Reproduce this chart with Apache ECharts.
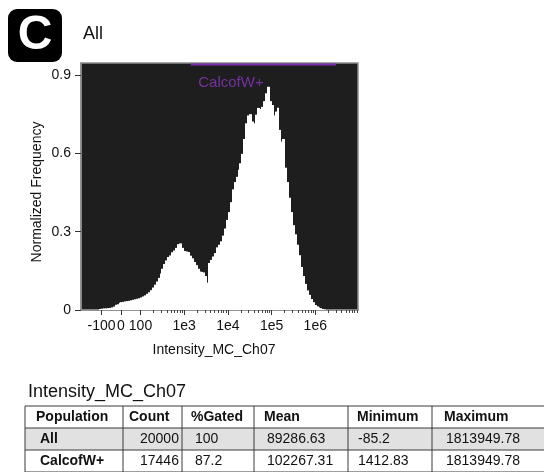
<!DOCTYPE html>
<html>
<head>
<meta charset="utf-8">
<script src="https://cdn.jsdelivr.net/npm/echarts@6/dist/echarts.min.js"></script>
<style>
  html, body { margin: 0; padding: 0; background: #fff; }
  #chart { width: 544px; height: 472px; }
</style>
</head>
<body>
<div id="chart"></div>
<script>
// Histogram bins live in display units of the biexponential axis:
// linear between -100 and 100, logarithmic above 100.
const binStart = -1.1;
const binWidth = 0.1;
const frequency = [
  0.004, 0.005, 0.006, 0.006, 0.007, 0.008, 0.010, 0.013, 0.020, 0.022,
  0.028, 0.030, 0.031, 0.033, 0.034, 0.035, 0.037, 0.039, 0.041, 0.043,
  0.045, 0.048, 0.052, 0.056, 0.062, 0.068, 0.076, 0.086, 0.097, 0.109,
  0.123, 0.140, 0.158, 0.176, 0.190, 0.203, 0.209, 0.221, 0.228, 0.238,
  0.252, 0.255, 0.238, 0.226, 0.224, 0.222, 0.208, 0.198, 0.184, 0.172,
  0.158, 0.147, 0.146, 0.144, 0.130, 0.105, 0.180, 0.192, 0.205, 0.218,
  0.240, 0.250, 0.263, 0.285, 0.312, 0.345, 0.375, 0.413, 0.462, 0.490,
  0.510, 0.537, 0.562, 0.598, 0.655, 0.715, 0.745, 0.750, 0.722, 0.715,
  0.748, 0.774, 0.770, 0.778, 0.800, 0.830, 0.855, 0.800, 0.785, 0.745,
  0.760, 0.775, 0.690, 0.645, 0.655, 0.545, 0.490, 0.430, 0.375, 0.325,
  0.290, 0.250, 0.210, 0.165, 0.130, 0.100, 0.075, 0.058, 0.042, 0.030,
  0.019, 0.014, 0.010, 0.007, 0.004, 0.002
];

const yTicks = [0, 0.3, 0.6, 0.9];
const xTickValues = [-100, 0, 100, 1e3, 1e4, 1e5, 1e6];
const xTickLabels = ['-100', '0', '100', '1e3', '1e4', '1e5', '1e6'];

const gateName = 'CalcofW+';
const gateRange = [1412.83, 3.0e6];
const gateLevel = 0.94;

const plotTitle = 'All';
const panelLetter = 'C';
const xName = 'Intensity_MC_Ch07';
const yName = 'Normalized Frequency';

const tableTitle = 'Intensity_MC_Ch07';
const tableHeader = ['Population', 'Count', '%Gated', 'Mean', 'Minimum', 'Maximum'];
const tableRows = [
  ['All', '20000', '100', '89286.63', '-85.2', '1813949.78'],
  ['CalcofW+', '17446', '87.2', '102267.31', '1412.83', '1813949.78']
];

// ---- axis transform ----
const DECADE = 2.24; // display units per decade above 100
function toDisplay(v) {
  return v <= 100 ? v / 100 : 1 + DECADE * Math.log10(v / 100);
}

const majorTicks = xTickValues.map(toDisplay);
const labelMap = {};
xTickValues.forEach((v, i) => { labelMap[toDisplay(v).toFixed(4)] = xTickLabels[i]; });
const minorTicks = [];
for (let e = 2; e <= 6; e++) {
  for (let k = 2; k <= 9; k++) minorTicks.push(toDisplay(k * Math.pow(10, e)));
}

const FONT = 'Liberation Sans, Arial, sans-serif';
const X_MIN = -2.05, X_MAX = 12.15;
const Y_MAX = 0.946;

const histData = frequency.map((v, i) => [binStart + i * binWidth, binStart + (i + 1) * binWidth, v]);

// ---- table graphics ----
const colEdges = [25, 123, 182, 254, 348, 432, 600];
const headX = [36, 129, 191, 264, 357, 444];
const cellX = [40, 140, 195, 267, 358, 446];
const rowEdges = [406, 428, 450, 472];
const tableEls = [];
tableEls.push({ type: 'rect', shape: { x: colEdges[0], y: rowEdges[1], width: 600, height: rowEdges[2] - rowEdges[1] },
  style: { fill: '#e1e1e1' } });
rowEdges.forEach(y => tableEls.push({ type: 'line', shape: { x1: colEdges[0], y1: y, x2: 600, y2: y },
  style: { stroke: '#3a3a3a', lineWidth: 1 } }));
colEdges.slice(0, 6).forEach(x => tableEls.push({ type: 'line', shape: { x1: x, y1: rowEdges[0], x2: x, y2: rowEdges[3] },
  style: { stroke: '#3a3a3a', lineWidth: 1 } }));
tableHeader.forEach((h, i) => tableEls.push({ type: 'text', x: headX[i], y: (rowEdges[0] + rowEdges[1]) / 2,
  style: { text: h, font: 'bold 14px ' + FONT, fill: '#111', verticalAlign: 'middle' } }));
tableRows.forEach((row, r) => row.forEach((c, i) => tableEls.push({ type: 'text', x: cellX[i],
  y: (rowEdges[r + 1] + rowEdges[r + 2]) / 2,
  style: { text: c, font: (i === 0 ? 'bold ' : '') + '14px ' + FONT, fill: '#111', verticalAlign: 'middle' } })));

const chart = echarts.init(document.getElementById('chart'), null, { renderer: 'canvas' });

chart.setOption({
  animation: false,
  backgroundColor: '#fff',
  textStyle: { fontFamily: FONT },
  grid: {
    left: 81, top: 63, width: 277, height: 247,
    show: true, backgroundColor: '#1e1e1e', borderColor: '#8c8c8c', borderWidth: 1.5
  },
  xAxis: [{
    type: 'value', min: X_MIN, max: X_MAX, position: 'bottom',
    axisLine: { show: true, onZero: false, lineStyle: { color: '#8c8c8c', width: 1.5 } },
    axisTick: { show: true, customValues: majorTicks, length: 5, lineStyle: { color: '#333' } },
    axisLabel: { customValues: majorTicks, color: '#111', fontSize: 14, margin: 9,
      formatter: v => labelMap[v.toFixed(4)] || '' },
    splitLine: { show: false }
  }, {
    type: 'value', min: X_MIN, max: X_MAX, position: 'bottom',
    axisLine: { show: false, onZero: false },
    axisTick: { show: true, customValues: minorTicks, length: 3, lineStyle: { color: '#444' } },
    axisLabel: { show: false },
    splitLine: { show: false }
  }],
  yAxis: {
    type: 'value', min: 0, max: Y_MAX, position: 'left',
    axisLine: { show: true, onZero: false, lineStyle: { color: '#8c8c8c', width: 1.5 } },
    axisTick: { show: true, customValues: yTicks, length: 6, lineStyle: { color: '#333', width: 1 } },
    axisLabel: { customValues: yTicks, color: '#111', fontSize: 14, margin: 10 },
    splitLine: { show: false }
  },
  series: [{
    type: 'custom',
    xAxisIndex: 0,
    data: histData,
    encode: { x: [0, 1], y: 2 },
    renderItem(params, api) {
      const p0 = api.coord([api.value(0), api.value(2)]);
      const p1 = api.coord([api.value(1), 0]);
      // snap bins to whole pixels so neighbouring bars join without seams
      const x0 = Math.floor(p0[0]);
      const x1 = Math.ceil(p1[0]);
      return { type: 'rect',
        shape: { x: x0, y: p0[1], width: x1 - x0, height: p1[1] - p0[1] },
        style: { fill: '#ffffff' } };
    }
  }, {
    type: 'line',
    xAxisIndex: 0,
    data: gateRange.map(v => [toDisplay(v), gateLevel]),
    symbol: 'none',
    lineStyle: { color: '#7a2fae', width: 2 },
    z: 5
  }, {
    type: 'scatter',
    xAxisIndex: 0,
    data: [[toDisplay(gateRange[0]), gateLevel]],
    symbolSize: 1,
    itemStyle: { color: 'transparent' },
    label: { show: true, formatter: gateName, position: 'right', distance: 0, offset: [7, 18],
      color: '#8a35c0', fontSize: 15, fontFamily: FONT },
    z: 6
  }],
  graphic: [
    { type: 'rect', shape: { x: 8, y: 9, width: 54, height: 53, r: 9 }, style: { fill: '#000' } },
    { type: 'text', x: 35, y: 36, style: { text: panelLetter, font: 'bold 48px ' + FONT, fill: '#fff',
      align: 'center', verticalAlign: 'middle' } },
    { type: 'text', x: 83, y: 34, style: { text: plotTitle, font: '18px ' + FONT, fill: '#111',
      verticalAlign: 'middle' } },
    { type: 'text', x: 37, y: 192, rotation: Math.PI / 2, style: { text: yName, font: '14px ' + FONT,
      fill: '#111', align: 'center', verticalAlign: 'middle' } },
    { type: 'text', x: 214, y: 350, style: { text: xName, font: '14px ' + FONT, fill: '#111',
      align: 'center', verticalAlign: 'middle' } },
    { type: 'text', x: 28, y: 392, style: { text: tableTitle, font: '18px ' + FONT, fill: '#111',
      verticalAlign: 'middle' } }
  ].concat(tableEls)
});
</script>
</body>
</html>
